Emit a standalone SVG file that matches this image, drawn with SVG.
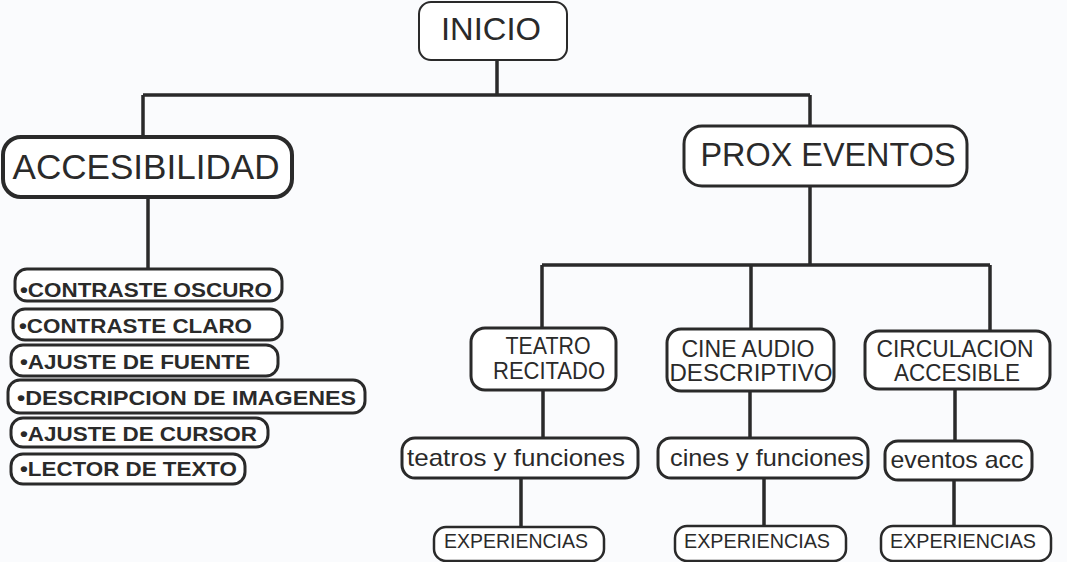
<svg xmlns="http://www.w3.org/2000/svg" width="1067" height="562" viewBox="0 0 1067 562">
<style>
.bx{fill:#ffffff;stroke:#2a2a2a;stroke-width:3}
.t{font-family:"Liberation Sans",Arial,sans-serif;fill:#2a2a2a;text-anchor:middle}
.lst{font-family:"Liberation Sans",Arial,sans-serif;fill:#2a2a2a;font-weight:bold;font-size:20px}
.c{stroke:#2a2a2a;stroke-width:3.5;fill:none}
</style>
<rect width="1067" height="562" fill="#fafbfd"/>
<g id="connectors">
<path class="c" d="M497 60 V95 M143 95 H810 M143 95 V137 M810 95 V126"/>
<path class="c" d="M148 197 V268"/>
<path class="c" d="M810 186 V265 M542 265 H990 M542 265 V329 M751 265 V330 M990 265 V332"/>
<path class="c" d="M543 390 V438 M750 391 V438 M955 389 V441"/>
<path class="c" d="M521 478 V527 M764 478 V525 M954 480 V527"/>
</g>
<g id="inicio"><rect class="bx" style="stroke-width:2" x="419" y="2" width="148" height="58" rx="12"/><text class="t" x="491" y="40" font-size="31" textLength="100" lengthAdjust="spacingAndGlyphs">INICIO</text></g>
<g id="accesibilidad"><rect class="bx" style="stroke-width:4" x="3" y="137" width="289" height="60" rx="18"/><text class="t" x="146" y="179" font-size="35" textLength="267" lengthAdjust="spacingAndGlyphs">ACCESIBILIDAD</text></g>
<g id="prox"><rect class="bx" x="684" y="126" width="283" height="60" rx="18"/><text class="t" x="828" y="166" font-size="33" textLength="255" lengthAdjust="spacingAndGlyphs">PROX EVENTOS</text></g>
<g id="l1"><rect class="bx" x="15" y="269" width="267" height="32" rx="12"/><text class="lst" x="20" y="297" textLength="252" lengthAdjust="spacingAndGlyphs">•CONTRASTE OSCURO</text></g>
<g id="l2"><rect class="bx" x="13" y="309" width="269" height="31" rx="12"/><text class="lst" x="19" y="333" textLength="233" lengthAdjust="spacingAndGlyphs">•CONTRASTE CLARO</text></g>
<g id="l3"><rect class="bx" x="11" y="345" width="267" height="31" rx="12"/><text class="lst" x="20" y="369" textLength="230" lengthAdjust="spacingAndGlyphs">•AJUSTE DE FUENTE</text></g>
<g id="l4"><rect class="bx" x="8" y="380" width="357" height="33" rx="12"/><text class="lst" x="17" y="405" textLength="339" lengthAdjust="spacingAndGlyphs">•DESCRIPCION DE IMAGENES</text></g>
<g id="l5"><rect class="bx" x="11" y="418" width="257" height="29" rx="12"/><text class="lst" x="20" y="441" textLength="237" lengthAdjust="spacingAndGlyphs">•AJUSTE DE CURSOR</text></g>
<g id="l6"><rect class="bx" x="11" y="454" width="234" height="30" rx="12"/><text class="lst" x="20" y="476" textLength="217" lengthAdjust="spacingAndGlyphs">•LECTOR DE TEXTO</text></g>
<g id="teatro"><rect class="bx" x="471" y="328" width="145" height="62" rx="14"/><text class="t" x="548" y="354" font-size="23" textLength="85" lengthAdjust="spacingAndGlyphs">TEATRO</text><text class="t" x="549" y="379" font-size="23" textLength="112" lengthAdjust="spacingAndGlyphs">RECITADO</text></g>
<g id="cine"><rect class="bx" x="667" y="329" width="167" height="62" rx="14"/><text class="t" x="748" y="357" font-size="23" textLength="133" lengthAdjust="spacingAndGlyphs">CINE AUDIO</text><text class="t" x="751" y="381" font-size="23" textLength="163" lengthAdjust="spacingAndGlyphs">DESCRIPTIVO</text></g>
<g id="circ"><rect class="bx" x="865" y="331" width="185" height="58" rx="14"/><text class="t" x="955" y="357" font-size="23" textLength="157" lengthAdjust="spacingAndGlyphs">CIRCULACION</text><text class="t" x="957" y="381" font-size="23" textLength="126" lengthAdjust="spacingAndGlyphs">ACCESIBLE</text></g>
<g id="teatros"><rect class="bx" x="402" y="438" width="236" height="40" rx="13"/><text class="t" x="516" y="466" font-size="24" textLength="218" lengthAdjust="spacingAndGlyphs">teatros y funciones</text></g>
<g id="cines"><rect class="bx" x="658" y="438" width="210" height="40" rx="13"/><text class="t" x="767" y="466" font-size="24" textLength="194" lengthAdjust="spacingAndGlyphs">cines y funciones</text></g>
<g id="eventos"><rect class="bx" x="885" y="441" width="147" height="39" rx="13"/><text class="t" x="957" y="468" font-size="24" textLength="133" lengthAdjust="spacingAndGlyphs">eventos acc</text></g>
<g id="exp1"><rect class="bx" style="stroke-width:2.5" x="434" y="527" width="170" height="34" rx="12"/><text class="t" x="516" y="548" font-size="20" textLength="144" lengthAdjust="spacingAndGlyphs">EXPERIENCIAS</text></g>
<g id="exp2"><rect class="bx" style="stroke-width:2.5" x="675" y="526" width="171" height="35" rx="12"/><text class="t" x="757" y="548" font-size="20" textLength="146" lengthAdjust="spacingAndGlyphs">EXPERIENCIAS</text></g>
<g id="exp3"><rect class="bx" style="stroke-width:2.5" x="881" y="526" width="170" height="35" rx="12"/><text class="t" x="963" y="548" font-size="20" textLength="146" lengthAdjust="spacingAndGlyphs">EXPERIENCIAS</text></g>
</svg>
